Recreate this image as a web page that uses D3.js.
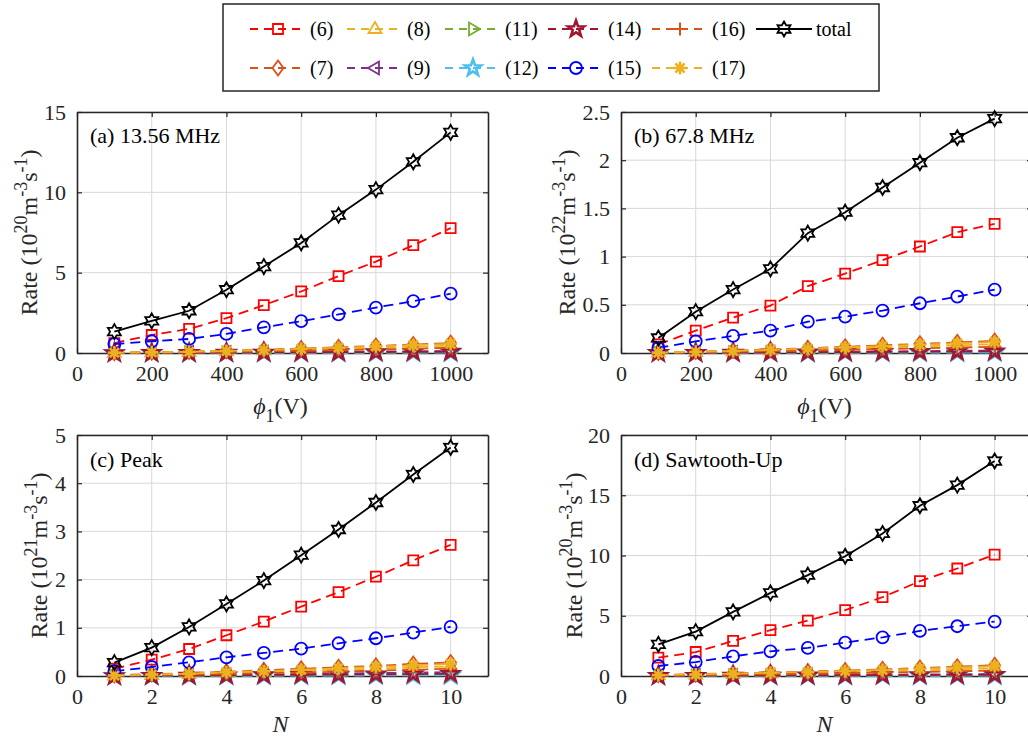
<!DOCTYPE html>
<html lang="en">
<head>
<meta charset="UTF-8">
<title>Reaction rates</title>
<script src="https://d3js.org/d3.v7.min.js"></script>
<style>
  body { margin: 0; background: #fff; }
  svg { font-family: "Liberation Serif", "Times New Roman", serif; }
  .grid line { stroke: #d8d8d8; stroke-width: 1; }
  .tick-label { font-size: 22px; fill: #262626; font-family: "Liberation Serif", serif; }
  .axis-label { font-size: 24px; fill: #262626; }
  .panel-title { font-size: 22px; fill: #000; }
  .legend-text { font-size: 20px; fill: #000; }
</style>
</head>
<body>
<script>
// x values: top row vs phi1 (V), bottom row vs N
const phi1 = [100, 200, 300, 400, 500, 600, 700, 800, 900, 1000];
const nPulse = [1, 2, 3, 4, 5, 6, 7, 8, 9, 10];

// each reaction: one row per panel -> (a) 13.56 MHz, (b) 67.8 MHz, (c) Peak, (d) Sawtooth-Up
const r6 = [
  [0.62, 1.12, 1.5, 2.17, 2.98, 3.83, 4.79, 5.69, 6.71, 7.77],
  [0.09, 0.232, 0.367, 0.492, 0.693, 0.824, 0.963, 1.105, 1.253, 1.34],
  [0.15, 0.34, 0.56, 0.845, 1.13, 1.44, 1.74, 2.06, 2.4, 2.72],
  [1.52, 1.99, 2.91, 3.8, 4.6, 5.46, 6.54, 7.87, 8.92, 10.08]
];
const r7 = [
  [0.02, 0.05, 0.09, 0.14, 0.21, 0.28, 0.36, 0.44, 0.53, 0.62],
  [0.005, 0.015, 0.025, 0.037, 0.05, 0.065, 0.08, 0.095, 0.11, 0.125],
  [0.02, 0.04, 0.06, 0.09, 0.12, 0.15, 0.18, 0.21, 0.25, 0.28],
  [0.1, 0.15, 0.22, 0.3, 0.37, 0.45, 0.55, 0.66, 0.77, 0.9]
];
const r8 = [
  [0.01, 0.03, 0.06, 0.1, 0.15, 0.2, 0.26, 0.32, 0.39, 0.46],
  [0.003, 0.01, 0.017, 0.026, 0.036, 0.046, 0.057, 0.068, 0.08, 0.092],
  [0.01, 0.02, 0.04, 0.06, 0.08, 0.1, 0.13, 0.15, 0.18, 0.2],
  [0.06, 0.1, 0.15, 0.2, 0.26, 0.32, 0.39, 0.47, 0.55, 0.65]
];
const r9 = [
  [0.0, 0.01, 0.02, 0.03, 0.04, 0.06, 0.07, 0.09, 0.11, 0.13],
  [0.001, 0.003, 0.005, 0.007, 0.01, 0.013, 0.016, 0.019, 0.022, 0.026],
  [0.0, 0.01, 0.01, 0.02, 0.03, 0.04, 0.05, 0.06, 0.07, 0.08],
  [0.02, 0.03, 0.04, 0.06, 0.07, 0.09, 0.11, 0.13, 0.15, 0.17]
];
const r11 = [
  [0.0, 0.0, 0.01, 0.01, 0.01, 0.02, 0.02, 0.03, 0.03, 0.04],
  [0.0, 0.001, 0.002, 0.003, 0.004, 0.005, 0.006, 0.007, 0.008, 0.009],
  [0.0, 0.0, 0.005, 0.008, 0.01, 0.013, 0.016, 0.019, 0.022, 0.025],
  [0.005, 0.01, 0.015, 0.02, 0.025, 0.03, 0.035, 0.04, 0.045, 0.05]
];
const r12 = [
  [0.0, 0.0, 0.0, 0.01, 0.01, 0.01, 0.01, 0.02, 0.02, 0.02],
  [0.0, 0.001, 0.001, 0.002, 0.002, 0.003, 0.003, 0.004, 0.004, 0.005],
  [0.0, 0.0, 0.0, 0.005, 0.006, 0.008, 0.009, 0.011, 0.012, 0.014],
  [0.0, 0.005, 0.01, 0.01, 0.015, 0.015, 0.02, 0.02, 0.025, 0.025]
];
const r14 = [
  [0.0, 0.01, 0.01, 0.02, 0.03, 0.04, 0.05, 0.06, 0.07, 0.08],
  [0.001, 0.002, 0.004, 0.005, 0.007, 0.009, 0.011, 0.013, 0.015, 0.017],
  [0.0, 0.005, 0.01, 0.015, 0.02, 0.025, 0.03, 0.035, 0.04, 0.045],
  [0.01, 0.02, 0.03, 0.04, 0.05, 0.06, 0.07, 0.08, 0.09, 0.1]
];
const r15 = [
  [0.56, 0.73, 0.875, 1.19, 1.6, 1.98, 2.4, 2.83, 3.23, 3.69],
  [0.052, 0.121, 0.177, 0.232, 0.325, 0.377, 0.44, 0.516, 0.585, 0.658],
  [0.1, 0.187, 0.284, 0.388, 0.478, 0.568, 0.679, 0.783, 0.9, 1.018],
  [0.83, 1.16, 1.63, 2.05, 2.33, 2.77, 3.21, 3.74, 4.13, 4.52]
];
const r16 = [
  [0.01, 0.02, 0.04, 0.07, 0.1, 0.14, 0.18, 0.22, 0.27, 0.32],
  [0.002, 0.007, 0.012, 0.018, 0.025, 0.032, 0.04, 0.048, 0.056, 0.065],
  [0.01, 0.02, 0.03, 0.04, 0.06, 0.07, 0.09, 0.11, 0.13, 0.15],
  [0.04, 0.07, 0.11, 0.15, 0.19, 0.23, 0.28, 0.33, 0.39, 0.45]
];
const r17 = [
  [0.02, 0.04, 0.08, 0.13, 0.19, 0.26, 0.33, 0.41, 0.49, 0.57],
  [0.004, 0.013, 0.022, 0.033, 0.045, 0.058, 0.072, 0.086, 0.1, 0.115],
  [0.01, 0.03, 0.05, 0.08, 0.1, 0.13, 0.16, 0.19, 0.22, 0.25],
  [0.08, 0.13, 0.2, 0.27, 0.34, 0.41, 0.5, 0.6, 0.7, 0.82]
];
const total = [
  [1.33, 2.0, 2.63, 3.94, 5.38, 6.85, 8.58, 10.17, 11.9, 13.73],
  [0.156, 0.429, 0.658, 0.873, 1.243, 1.461, 1.717, 1.974, 2.233, 2.431],
  [0.277, 0.589, 1.018, 1.496, 1.98, 2.507, 3.04, 3.6, 4.18, 4.74],
  [2.63, 3.68, 5.32, 6.9, 8.37, 9.94, 11.83, 14.13, 15.84, 17.84]
];

const panelTitles = ["(a) 13.56 MHz", "(b) 67.8 MHz", "(c) Peak", "(d) Sawtooth-Up"];
const rateExp = ["20", "22", "21", "20"];
const yMax = [15, 2.5, 5, 20];
const yTicks = [[0, 5, 10, 15], [0, 0.5, 1, 1.5, 2, 2.5], [0, 1, 2, 3, 4, 5], [0, 5, 10, 15, 20]];
const xTicksPhi = [0, 200, 400, 600, 800, 1000];
const xTicksN = [0, 2, 4, 6, 8, 10];

const series = [
  { name: "(6)",  data: r6,  color: "#ff0000", marker: "square" },
  { name: "(7)",  data: r7,  color: "#d95319", marker: "diamond" },
  { name: "(8)",  data: r8,  color: "#edb120", marker: "triUp" },
  { name: "(9)",  data: r9,  color: "#7e2f8e", marker: "triLeft" },
  { name: "(11)", data: r11, color: "#77ac30", marker: "triRight" },
  { name: "(12)", data: r12, color: "#4dbeee", marker: "pentagram" },
  { name: "(14)", data: r14, color: "#a2142f", marker: "pentagram" },
  { name: "(15)", data: r15, color: "#0000ff", marker: "circle" },
  { name: "(16)", data: r16, color: "#d95319", marker: "plus" },
  { name: "(17)", data: r17, color: "#edb120", marker: "asterisk" },
  { name: "total", data: total, color: "#000000", marker: "hexagram", solid: true }
];

const W = 1028, H = 740;
const svg = d3.select("body").append("svg").attr("width", W).attr("height", H);

// marker shapes
function starPath(p, n, ro, ri) {
  for (let i = 0; i < 2 * n; i++) {
    const a = -Math.PI / 2 + i * Math.PI / n;
    const r = i % 2 ? ri : ro;
    const px = r * Math.cos(a), py = r * Math.sin(a);
    if (i === 0) p.moveTo(px, py); else p.lineTo(px, py);
  }
  p.closePath();
}
function markerPath(type) {
  const p = d3.path();
  if (type === "square") p.rect(-5, -5, 10, 10);
  else if (type === "circle") { p.moveTo(6, 0); p.arc(0, 0, 6, 0, 2 * Math.PI); }
  else if (type === "diamond") { p.moveTo(0, -7.5); p.lineTo(5.5, 0); p.lineTo(0, 7.5); p.lineTo(-5.5, 0); p.closePath(); }
  else if (type === "triUp") { p.moveTo(0, -7); p.lineTo(6.5, 4); p.lineTo(-6.5, 4); p.closePath(); }
  else if (type === "triLeft") { p.moveTo(-7, 0); p.lineTo(4, -6.5); p.lineTo(4, 6.5); p.closePath(); }
  else if (type === "triRight") { p.moveTo(7, 0); p.lineTo(-4, -6.5); p.lineTo(-4, 6.5); p.closePath(); }
  else if (type === "pentagram") starPath(p, 5, 8.5, 3.4);
  else if (type === "hexagram") starPath(p, 6, 7.5, 4.3);
  else if (type === "plus") { p.moveTo(-6.5, 0); p.lineTo(6.5, 0); p.moveTo(0, -6.5); p.lineTo(0, 6.5); }
  else if (type === "asterisk") {
    for (let k = 0; k < 4; k++) {
      const a = k * Math.PI / 4;
      p.moveTo(-6.5 * Math.cos(a), -6.5 * Math.sin(a));
      p.lineTo(6.5 * Math.cos(a), 6.5 * Math.sin(a));
    }
  }
  return p.toString();
}
const markerWidth = { pentagram: 2.6, asterisk: 2.6, plus: 2 };

const panels = [
  { x0: 77, y0: 112, ylab: 37, xs: phi1, xMax: 1100, xt: xTicksPhi, phi: true },
  { x0: 621, y0: 112, ylab: 575, xs: phi1, xMax: 1100, xt: xTicksPhi, phi: true },
  { x0: 77, y0: 435, ylab: 47, xs: nPulse, xMax: 11, xt: xTicksN, phi: false },
  { x0: 621, y0: 435, ylab: 582, xs: nPulse, xMax: 11, xt: xTicksN, phi: false }
];
const pw = 411, ph = 241;

panels.forEach((pn, i) => {
  const x = d3.scaleLinear().domain([0, pn.xMax]).range([pn.x0, pn.x0 + pw]);
  const y = d3.scaleLinear().domain([0, yMax[i]]).range([pn.y0 + ph, pn.y0]);
  const g = svg.append("g");

  // grid
  const grid = g.append("g").attr("class", "grid");
  grid.selectAll(".gx").data(pn.xt.slice(1)).join("line")
    .attr("x1", d => x(d)).attr("x2", d => x(d)).attr("y1", pn.y0).attr("y2", pn.y0 + ph);
  grid.selectAll(".gy").data(yTicks[i].slice(1)).join("line")
    .attr("x1", pn.x0).attr("x2", pn.x0 + pw).attr("y1", d => y(d)).attr("y2", d => y(d));

  // axes box with inward ticks on all sides
  const xAxB = d3.axisBottom(x).tickValues(pn.xt).tickSize(-5).tickSizeOuter(0).tickPadding(12).tickFormat(d => d);
  const xAxT = d3.axisTop(x).tickValues(pn.xt).tickSize(-5).tickSizeOuter(0).tickFormat("");
  const yAxL = d3.axisLeft(y).tickValues(yTicks[i]).tickSize(-5).tickSizeOuter(0).tickPadding(11).tickFormat(d3.format("~g"));
  const yAxR = d3.axisRight(y).tickValues(yTicks[i]).tickSize(-5).tickSizeOuter(0).tickFormat("");
  const styleAx = sel => {
    sel.attr("font-family", null).attr("font-size", null);
    sel.select(".domain").attr("stroke", "#262626").attr("stroke-width", 1.6);
    sel.selectAll(".tick line").attr("stroke", "#262626").attr("stroke-width", 1.2);
    sel.selectAll(".tick text").attr("class", "tick-label").attr("fill", null)
      .attr("font-family", "Liberation Serif");
  };
  g.append("g").attr("transform", `translate(0,${pn.y0 + ph})`).call(xAxB).call(styleAx);
  g.append("g").attr("transform", `translate(0,${pn.y0})`).call(xAxT).call(styleAx);
  g.append("g").attr("transform", `translate(${pn.x0},0)`).call(yAxL).call(styleAx);
  g.append("g").attr("transform", `translate(${pn.x0 + pw},0)`).call(yAxR).call(styleAx);

  // data
  const line = d3.line().x(d => x(d[0])).y(d => y(d[1]));
  series.forEach(s => {
    const pts = pn.xs.map((v, k) => [v, s.data[i][k]]);
    g.append("path").datum(pts).attr("d", line)
      .attr("fill", "none").attr("stroke", s.color).attr("stroke-width", 1.8)
      .attr("stroke-dasharray", s.solid ? null : "10,6");
    g.selectAll(null).data(pts).join("path")
      .attr("transform", d => `translate(${x(d[0])},${y(d[1])})`)
      .attr("d", markerPath(s.marker))
      .attr("fill", "none").attr("stroke", s.color).attr("stroke-width", markerWidth[s.marker] || 1.8);
  });

  // panel title
  g.append("text").attr("class", "panel-title")
    .attr("x", pn.x0 + 13).attr("y", pn.y0 + (i < 2 ? 31 : 32)).text(panelTitles[i]);

  // y label
  const yl = g.append("text").attr("class", "axis-label")
    .attr("transform", `translate(${pn.ylab},${pn.y0 + ph / 2}) rotate(-90)`)
    .attr("text-anchor", "middle");
  yl.append("tspan").text("Rate (10");
  yl.append("tspan").attr("dy", -10).attr("font-size", 18).text(rateExp[i]);
  yl.append("tspan").attr("dy", 10).text("m");
  yl.append("tspan").attr("dy", -10).attr("font-size", 18).text("-3");
  yl.append("tspan").attr("dy", 10).text("s");
  yl.append("tspan").attr("dy", -10).attr("font-size", 18).text("-1");
  yl.append("tspan").attr("dy", 10).text(")");

  // x label
  const xl = g.append("text").attr("class", "axis-label")
    .attr("x", pn.x0 + pw / 2 - 2).attr("y", pn.y0 + ph + (pn.phi ? 61 : 56)).attr("text-anchor", "middle");
  if (pn.phi) {
    xl.append("tspan").attr("font-style", "italic").text("\u03D5");
    xl.append("tspan").attr("dy", 8).attr("font-size", 18).text("1");
    xl.append("tspan").attr("dy", -8).text("(V)");
  } else {
    xl.append("tspan").attr("font-style", "italic").text("N");
  }
});

// legend
const legendCols = [250, 347, 445, 548, 652, 756];
const legendRows = [29, 68];
const lg = svg.append("g");
lg.append("rect").attr("x", 223).attr("y", 4).attr("width", 656).attr("height", 87)
  .attr("fill", "#fff").attr("stroke", "#262626").attr("stroke-width", 1.5);
series.forEach((s, k) => {
  const col = Math.floor(k / 2), row = k % 2;
  const lx = legendCols[col], ly = legendRows[row];
  const it = lg.append("g").attr("transform", `translate(${lx},${ly})`);
  it.append("line").attr("x1", 0).attr("x2", 56).attr("y1", 0).attr("y2", 0)
    .attr("stroke", s.color).attr("stroke-width", 1.8)
    .attr("stroke-dasharray", s.solid ? null : "8,6");
  it.append("path").attr("transform", "translate(28,0)").attr("d", markerPath(s.marker))
    .attr("fill", "none").attr("stroke", s.color).attr("stroke-width", markerWidth[s.marker] || 1.8);
  it.append("text").attr("class", "legend-text").attr("x", 60).attr("y", 7).text(s.name);
});
</script>
</body>
</html>
